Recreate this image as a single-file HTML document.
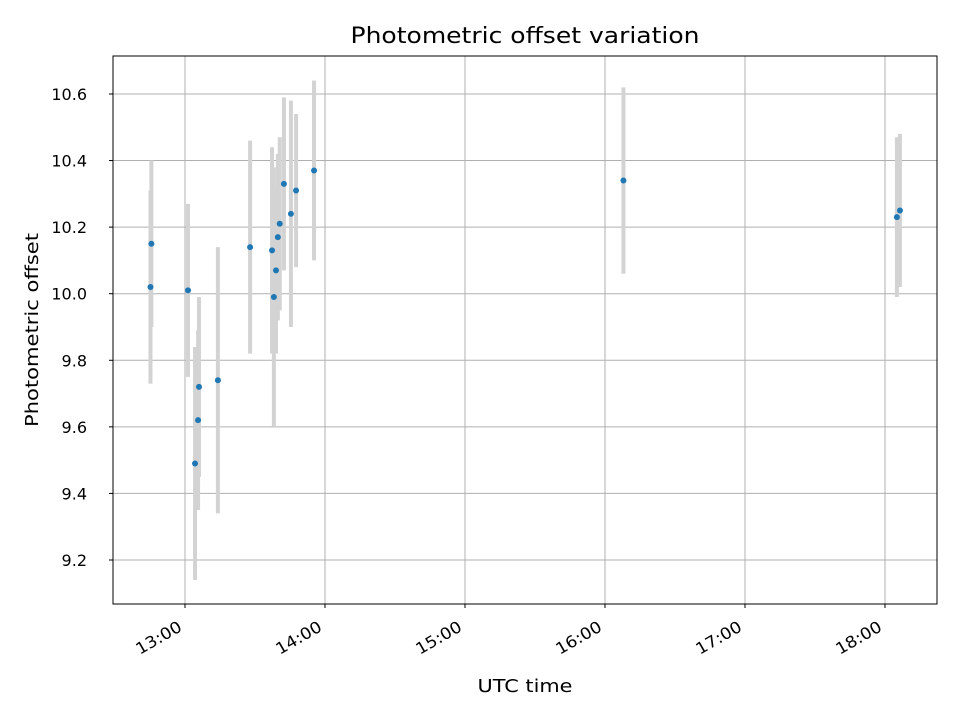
<!DOCTYPE html>
<html><head><meta charset="utf-8"><style>body{margin:0;background:#fff}svg{display:block;font-family:"DejaVu Sans","Liberation Sans",sans-serif}</style></head>
<body>
<svg id="chart" width="960" height="720">
<rect width="960" height="720" fill="#fff"/>
<text x="525" y="43" text-anchor="middle" font-size="22" textLength="349" lengthAdjust="spacingAndGlyphs">Photometric offset variation</text>
<g id="grid"></g><g id="errs"></g><g id="pts"></g><g id="axes"></g>
<text x="525" y="692" text-anchor="middle" font-size="18" textLength="95" lengthAdjust="spacingAndGlyphs">UTC time</text>
<text transform="translate(38,330) rotate(-90)" text-anchor="middle" font-size="18" textLength="194" lengthAdjust="spacingAndGlyphs">Photometric offset</text>
</svg>
<script>
// minutes after 12:00 UTC
const times=[45.2,45.6,61.3,64.3,65.6,66.0,74.1,87.9,97.3,98.1,99.0,99.8,100.6,102.4,105.4,107.6,115.3,247.9,365.1,366.4];
const offsets=[10.02,10.15,10.01,9.49,9.62,9.72,9.74,10.14,10.13,9.99,10.07,10.17,10.21,10.33,10.24,10.31,10.37,10.34,10.23,10.25];
const errors=[0.29,0.25,0.26,0.35,0.27,0.27,0.40,0.32,0.31,0.39,0.25,0.25,0.26,0.26,0.34,0.23,0.27,0.28,0.24,0.23];
const yTicks=[9.2,9.4,9.6,9.8,10.0,10.2,10.4,10.6];
const xTickMinutes=[60,120,180,240,300,360];
const xTickLabels=["13:00","14:00","15:00","16:00","17:00","18:00"];
const L=113,R=937,T=56,B=604;
const xs=m=>185+(m-60)*140/60;
const ys=v=>293.7-(v-10)*332.86;
const NS="http://www.w3.org/2000/svg";
function mk(p,tag,a){const e=document.createElementNS(NS,tag);for(const k in a)e.setAttribute(k,a[k]);document.getElementById(p).appendChild(e);return e;}
yTicks.forEach(v=>{const y=ys(v);
 let g=mk('grid','line',{x1:L,x2:R,y1:y,y2:y,stroke:'#b0b0b0','stroke-width':1});
 
 
 mk('axes','line',{x1:L-4,x2:L,y1:y,y2:y,stroke:'#000'});
 let t=mk('axes','text',{x:87,y:y+6,'text-anchor':'end','font-size':16});t.textContent=v.toFixed(1);
 
 
});
xTickMinutes.forEach((m,i)=>{const x=xs(m);
 let g=mk('grid','line',{x1:x,x2:x,y1:T,y2:B,stroke:'#b0b0b0','stroke-width':1});
 
 
 mk('axes','line',{x1:x,x2:x,y1:B,y2:B+4,stroke:'#000'});
 let t=mk('axes','text',{transform:`translate(${x-2},${B+26}) rotate(-30)`,'text-anchor':'end','font-size':16,textLength:50,lengthAdjust:'spacingAndGlyphs'});t.textContent=xTickLabels[i];
 
 
});
let fr=mk('axes','rect',{x:L,y:T,width:R-L,height:B-T,fill:'none',stroke:'#000','stroke-width':1});


times.forEach((m,i)=>{const x=xs(m);
 let e=mk('errs','line',{x1:x,x2:x,y1:ys(offsets[i]+errors[i]),y2:ys(offsets[i]-errors[i]),stroke:'#d3d3d3','stroke-width':4});
 
 
 let c=mk('pts','circle',{cx:x,cy:ys(offsets[i]),r:3,fill:'#1f77b4'});
 
 
});
</script>
</body></html>
